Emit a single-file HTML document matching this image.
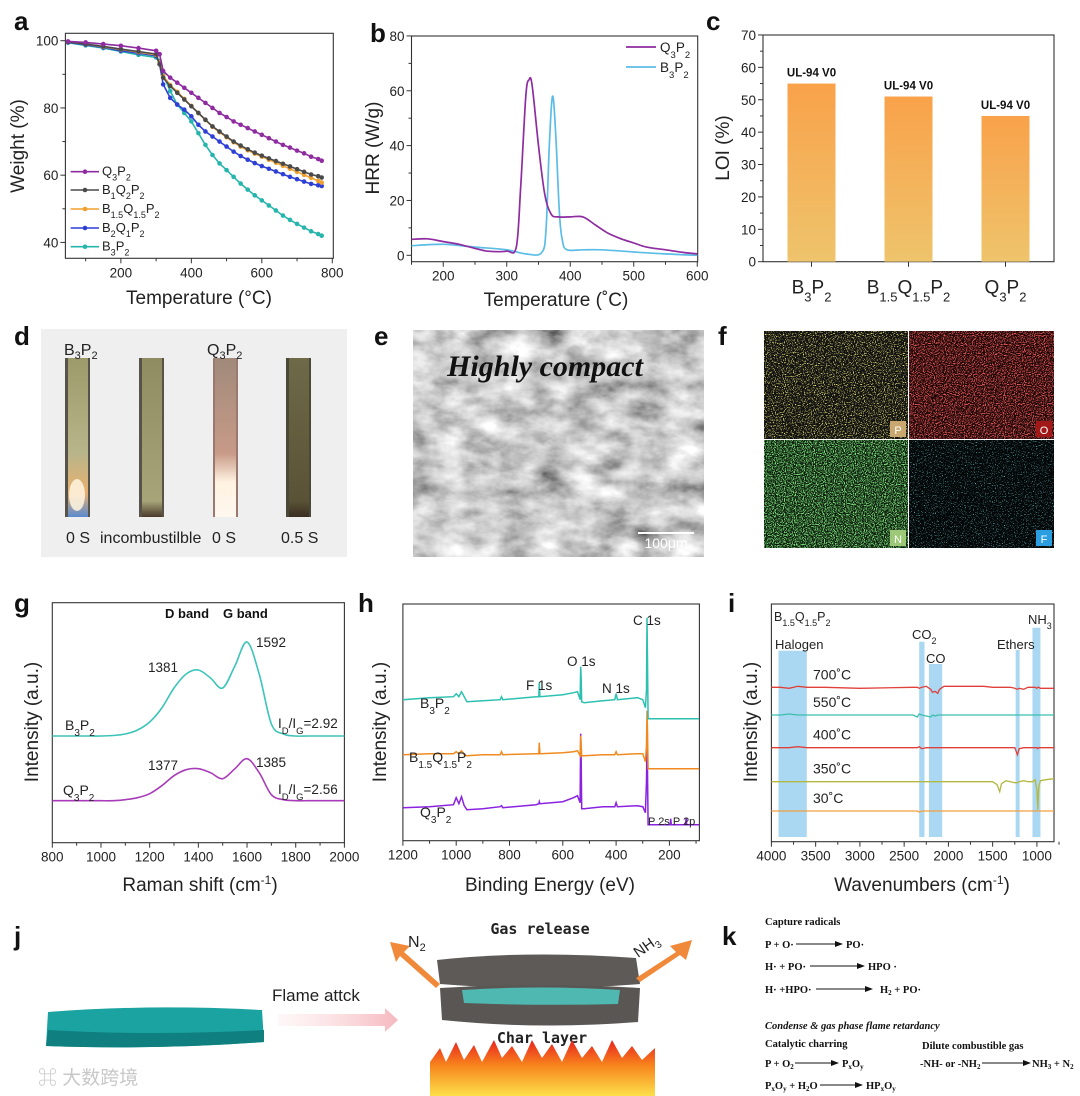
<!DOCTYPE html>
<html><head><meta charset="utf-8"><title>Flame retardant figure</title>
<style>
html,body{margin:0;padding:0;background:#fff;}
svg{display:block;font-family:"Liberation Sans","Noto Sans CJK SC",sans-serif;}
.pl{font-weight:bold;font-size:26px;fill:#111;}
.tk{font-size:13.5px;fill:#222;}
.at{font-size:19px;fill:#222;}
.kt{font-family:"Liberation Serif",serif;font-weight:bold;font-size:10.5px;fill:#111;}
</style></head>
<body>
<svg id="fig" width="1080" height="1096" viewBox="0 0 1080 1096" xmlns="http://www.w3.org/2000/svg">
<defs>
 <linearGradient id="barGrad" x1="0" y1="0" x2="0" y2="1"><stop offset="0" stop-color="#f9a24a"/><stop offset="1" stop-color="#eec46c"/></linearGradient>
 <linearGradient id="stripA" x1="0" y1="0" x2="0" y2="1"><stop offset="0" stop-color="#9c9a6a"/><stop offset="0.6" stop-color="#b8b58a"/><stop offset="0.85" stop-color="#e8b070"/><stop offset="1" stop-color="#5a8ad0"/></linearGradient>
 <linearGradient id="stripB" x1="0" y1="0" x2="0" y2="1"><stop offset="0" stop-color="#8e8c60"/><stop offset="0.9" stop-color="#a8a47a"/><stop offset="1" stop-color="#4a3a2a"/></linearGradient>
 <linearGradient id="stripC" x1="0" y1="0" x2="0" y2="1"><stop offset="0" stop-color="#a08a7a"/><stop offset="0.6" stop-color="#c89a88"/><stop offset="0.78" stop-color="#fff2e0"/><stop offset="1" stop-color="#fff8f0"/></linearGradient>
 <linearGradient id="stripD" x1="0" y1="0" x2="0" y2="1"><stop offset="0" stop-color="#6e6a48"/><stop offset="0.9" stop-color="#5a5236"/><stop offset="1" stop-color="#3a2e22"/></linearGradient>
 <linearGradient id="pinkArrow" x1="0" y1="0" x2="1" y2="0"><stop offset="0" stop-color="#fde4e6" stop-opacity="0.3"/><stop offset="1" stop-color="#f5b8bf"/></linearGradient>
 <linearGradient id="fireGrad" x1="0" y1="0" x2="0" y2="1"><stop offset="0" stop-color="#e8231f"/><stop offset="0.45" stop-color="#f7841c"/><stop offset="1" stop-color="#fde04a"/></linearGradient>
 <filter id="semNoise" x="0" y="0" width="1" height="1"><feTurbulence type="fractalNoise" baseFrequency="0.03 0.05" numOctaves="4" seed="3"/><feColorMatrix type="matrix" values="1.1 0.4 0.2 0 -0.25  1.1 0.4 0.2 0 -0.25  1.1 0.4 0.2 0 -0.25  0 0 0 0 1"/></filter>
 <filter id="dotsY" x="0" y="0" width="1" height="1"><feTurbulence type="fractalNoise" baseFrequency="0.9" numOctaves="1" seed="1"/><feColorMatrix type="matrix" values="0 0 0 0 0.85 0 0 0 0 0.8 0 0 0 0 0.2 6 0 0 0 -3.2"/></filter>
 <filter id="dotsR" x="0" y="0" width="1" height="1"><feTurbulence type="fractalNoise" baseFrequency="0.9" numOctaves="1" seed="2"/><feColorMatrix type="matrix" values="0 0 0 0 0.85 0 0 0 0 0.1 0 0 0 0 0.1 6 0 0 0 -2.9"/></filter>
 <filter id="dotsG" x="0" y="0" width="1" height="1"><feTurbulence type="fractalNoise" baseFrequency="0.9" numOctaves="1" seed="4"/><feColorMatrix type="matrix" values="0 0 0 0 0.2 0 0 0 0 0.75 0 0 0 0 0.2 6 0 0 0 -2.8"/></filter>
 <filter id="dotsC" x="0" y="0" width="1" height="1"><feTurbulence type="fractalNoise" baseFrequency="0.9" numOctaves="1" seed="5"/><feColorMatrix type="matrix" values="0 0 0 0 0.2 0 0 0 0 0.7 0 0 0 0 0.8 6 0 0 0 -3.6"/></filter>
</defs>

<text class="pl" x="14" y="30">a</text>
<text class="pl" x="370" y="42">b</text>
<text class="pl" x="706" y="30">c</text>
<text class="pl" x="14" y="345">d</text>
<text class="pl" x="374" y="345">e</text>
<text class="pl" x="718" y="345">f</text>
<text class="pl" x="14" y="612">g</text>
<text class="pl" x="358" y="612">h</text>
<text class="pl" x="728" y="612">i</text>
<text class="pl" x="14" y="945">j</text>
<text class="pl" x="722" y="945">k</text>

<g>
 <rect x="41" y="329" width="306" height="228" fill="#efefef"/>
 <rect x="65" y="358" width="25" height="159" fill="#55534a"/>
 <rect x="68" y="358" width="20" height="159" fill="url(#stripA)"/>
 <ellipse cx="77" cy="495" rx="8" ry="16" fill="#fff6e0" opacity="0.85"/>
 <rect x="139" y="358" width="25" height="159" fill="#55534a"/>
 <rect x="142" y="358" width="20" height="159" fill="url(#stripB)"/>
 <rect x="213" y="358" width="25" height="159" fill="#9a7a70"/>
 <rect x="215" y="358" width="21" height="159" fill="url(#stripC)"/>
 <rect x="286" y="358" width="25" height="159" fill="#4a4838"/>
 <rect x="289" y="358" width="20" height="159" fill="url(#stripD)"/>
 <text x="64" y="355" font-size="16" fill="#222">B<tspan font-size="11" dy="4">3</tspan><tspan dy="-4">P</tspan><tspan font-size="11" dy="4">2</tspan></text>
 <text x="207" y="355" font-size="16" fill="#222">Q<tspan font-size="11" dy="4">3</tspan><tspan dy="-4">P</tspan><tspan font-size="11" dy="4">2</tspan></text>
 <text x="66" y="543" font-size="16" fill="#222">0 S</text>
 <text x="100" y="543" font-size="16" fill="#222">incombustilble</text>
 <text x="212" y="543" font-size="16" fill="#222">0 S</text>
 <text x="281" y="543" font-size="16" fill="#222">0.5 S</text>
</g>

<g>
 <rect x="413" y="330" width="291" height="227" fill="#999" filter="url(#semNoise)"/>
 <text x="545" y="376" text-anchor="middle" font-family="Liberation Serif,serif" font-style="italic" font-weight="bold" font-size="30" fill="#111">Highly compact</text>
 <line x1="638" y1="533" x2="694" y2="533" stroke="#fff" stroke-width="2"/>
 <text x="666" y="548" text-anchor="middle" font-size="14" fill="#fff">100μm</text>
</g>

<g>
 <rect x="764" y="331" width="144" height="108" fill="#111"/>
 <rect x="764" y="331" width="144" height="108" filter="url(#dotsY)"/>
 <rect x="909" y="331" width="145" height="108" fill="#1a0606"/>
 <rect x="909" y="331" width="145" height="108" filter="url(#dotsR)"/>
 <rect x="764" y="440" width="144" height="108" fill="#0b1a0b"/>
 <rect x="764" y="440" width="144" height="108" filter="url(#dotsG)"/>
 <rect x="909" y="440" width="145" height="108" fill="#050808"/>
 <rect x="909" y="440" width="145" height="108" filter="url(#dotsC)"/>
 <rect x="890" y="421" width="16" height="16" fill="#c8a870"/><text x="898" y="434" text-anchor="middle" font-size="11" fill="#fff">P</text>
 <rect x="1036" y="421" width="16" height="16" fill="#a01818"/><text x="1044" y="434" text-anchor="middle" font-size="11" fill="#fff">O</text>
 <rect x="890" y="530" width="16" height="16" fill="#9cc878"/><text x="898" y="543" text-anchor="middle" font-size="11" fill="#fff">N</text>
 <rect x="1036" y="530" width="16" height="16" fill="#2a9ee0"/><text x="1044" y="543" text-anchor="middle" font-size="11" fill="#fff">F</text>
</g>

<g>
 <path d="M48,1012 Q150,1004 262,1010 L264,1042 Q160,1050 46,1046 Z" fill="#1aa3a0"/>
 <path d="M48,1030 Q150,1036 264,1030 L264,1042 Q160,1050 46,1046 Z" fill="#0f7f80"/>
 <path d="M278,1014 L385,1014 L385,1008 L398,1020 L385,1032 L385,1026 L278,1026 Z" fill="url(#pinkArrow)"/>
 <text x="272" y="1001" font-size="17" fill="#222">Flame attck</text>
 <text x="540" y="934" text-anchor="middle" font-size="15" font-weight="bold" font-family="DejaVu Sans Mono,monospace" fill="#222">Gas release</text>
 <path d="M437,960 Q530,950 636,958 L640,984 Q540,992 440,984 Z" fill="#5e5a58"/>
 <path d="M440,988 Q540,982 640,988 L638,1022 Q540,1030 442,1020 Z" fill="#5a5654"/>
 <path d="M462,990 Q540,985 620,990 L618,1004 Q540,1006 464,1003 Z" fill="#4fb8b0"/>
 <text x="542" y="1043" text-anchor="middle" font-size="15" font-weight="bold" font-family="DejaVu Sans Mono,monospace" fill="#222">Char layer</text>
 <path d="M430,1096 L430,1062 L440,1048 L446,1062 L456,1042 L464,1060 L474,1045 L482,1062 L494,1040 L502,1058 L512,1046 L522,1062 L532,1040 L542,1058 L552,1044 L562,1062 L572,1040 L582,1058 L592,1046 L602,1062 L612,1040 L622,1058 L632,1046 L642,1060 L655,1048 L655,1096 Z" fill="url(#fireGrad)"/>
 <path d="M440,984 L404,952 L410,946 L390,942 L396,962 L400,956 L436,988 Z" fill="#f08a3a"/>
 <text x="408" y="947" font-size="16" fill="#222">N<tspan font-size="11" dy="4">2</tspan></text>
 <path d="M636,978 L676,952 L670,946 L692,940 L686,960 L680,955 L640,982 Z" fill="#f08a3a"/>
 <text x="638" y="958" font-size="15" fill="#222" transform="rotate(-35 638 958)">NH<tspan font-size="10" dy="4">3</tspan></text>
 <text x="38" y="1084" font-size="19" fill="#c8c8c8">⌘ 大数跨境</text>
</g>

<g>
 <text class="kt" x="765" y="925">Capture radicals</text>
 <text class="kt" x="765" y="948">P + O·</text>
 <text class="kt" x="846" y="948">PO·</text>
 <text class="kt" x="765" y="970">H· + PO·</text>
 <text class="kt" x="868" y="970">HPO ·</text>
 <text class="kt" x="765" y="993">H· +HPO·</text>
 <text class="kt" x="880" y="993">H<tspan font-size="7" dy="2">2</tspan><tspan dy="-2"> + PO·</tspan></text>
 <text class="kt" x="765" y="1029" font-style="italic">Condense &amp; gas phase flame retardancy</text>
 <text class="kt" x="765" y="1047">Catalytic charring</text>
 <text class="kt" x="922" y="1049">Dilute combustible gas</text>
 <text class="kt" x="765" y="1067">P + O<tspan font-size="7" dy="2">2</tspan></text>
 <text class="kt" x="842" y="1067">P<tspan font-size="7" dy="2">x</tspan><tspan dy="-2">O</tspan><tspan font-size="7" dy="2">y</tspan></text>
 <text class="kt" x="920" y="1067">-NH- or -NH<tspan font-size="7" dy="2">2</tspan></text>
 <text class="kt" x="1032" y="1067">NH<tspan font-size="7" dy="2">3</tspan><tspan dy="-2"> + N</tspan><tspan font-size="7" dy="2">2</tspan></text>
 <text class="kt" x="765" y="1089">P<tspan font-size="7" dy="2">x</tspan><tspan dy="-2">O</tspan><tspan font-size="7" dy="2">y</tspan><tspan dy="-2"> + H</tspan><tspan font-size="7" dy="2">2</tspan><tspan dy="-2">O</tspan></text>
 <text class="kt" x="866" y="1089">HP<tspan font-size="7" dy="2">x</tspan><tspan dy="-2">O</tspan><tspan font-size="7" dy="2">y</tspan></text>
 <g stroke="#111" stroke-width="1">
  <line x1="796" y1="944" x2="836" y2="944"/><line x1="810" y1="966" x2="858" y2="966"/><line x1="816" y1="989" x2="866" y2="989"/>
  <line x1="795" y1="1063" x2="832" y2="1063"/><line x1="982" y1="1063" x2="1024" y2="1063"/><line x1="820" y1="1085" x2="856" y2="1085"/>
 </g>
 <g fill="#111">
  <path d="M843,944 l-8,-3 v6z"/><path d="M865,966 l-8,-3 v6z"/><path d="M873,989 l-8,-3 v6z"/>
  <path d="M839,1063 l-8,-3 v6z"/><path d="M1031,1063 l-8,-3 v6z"/><path d="M863,1085 l-8,-3 v6z"/>
 </g>
</g>

<g id="charts"></g>

<script>
// ---------- panel a: TGA ----------
const tgaTemps = [50,100,150,200,250,300,310,320,340,360,380,400,420,440,460,480,500,520,540,560,580,600,620,640,660,680,700,720,740,760,770];
const tgaQ3P2 = [99.8,99.5,99,98.5,97.8,97,96,91,89,87.5,86,84.5,83,81.5,80,78.5,77.3,76,75,74,73,72,71,70,69,68.2,67.3,66.5,65.5,64.8,64.3];
const tgaB1Q2P2 = [99.6,99,98.3,97.5,96.8,96,93,89,86.5,84.5,82.5,80.5,78.5,76.5,74.5,73,71.5,70,68.8,67.7,66.7,65.8,65,64.2,63.4,62.6,61.8,61,60.2,59.7,59.3];
const tgaB15Q15P2 = [99.6,99,98.2,97.4,96.6,95.8,93.5,89.5,86.8,84.8,82.7,80.6,78.5,76.4,74.4,72.8,71.3,69.8,68.5,67.4,66.4,65.5,64.6,63.7,62.8,61.9,61,60.1,59.2,58.3,57.8];
const tgaB2Q1P2 = [99.5,98.8,98,97,96.3,95.5,93,87,83,81,79.5,77.5,75,73,71.5,70,68.5,67,65.7,64.6,63.6,62.7,61.9,61.1,60.3,59.5,58.8,58.1,57.4,57,56.8];
const tgaB3P2 = [99.4,98.6,97.8,96.8,95.8,95,94,90,85,81,78.5,76,72.5,69,66,63.5,61.5,59.5,57.5,55.7,54,52.5,51,49.5,48,46.7,45.5,44.4,43.3,42.5,42];
const tgaNames = ["Q_3P_2","B_1Q_2P_2","B_1_._5Q_1_._5P_2","B_2Q_1P_2","B_3P_2"];
const tgaXTicks = [200,400,600,800];
const tgaYTicks = [40,60,80,100];

// ---------- panel b: HRR ----------
const hrrTempQ = [150,175,200,225,250,270,300,315,322,330,335,340,350,360,370,380,400,420,440,460,480,500,520,550,580,600];
const hrrQ3P2 = [5.8,6,5,4,2.5,1.5,1.5,3,25,58,64,62,40,22,15,14,14,14,11,8,6,4.5,3,2,1,0.5];
const hrrTempB = [150,200,250,300,330,355,362,367,372,377,383,388,395,420,450,500,550,600];
const hrrB3P2 = [3.5,4,3,2,0.5,1,10,40,58,45,15,5,2,2,2,1.2,0.5,0];
const hrrXTicks = [200,300,400,500,600];
const hrrYTicks = [0,20,40,60,80];

// ---------- panel c: LOI ----------
const loiCats = ["B_3P_2","B_1_._5Q_1_._5P_2","Q_3P_2"];
const loiValues = [55,51,45];
const loiLabels = ["UL-94 V0","UL-94 V0","UL-94 V0"];
const loiYTicks = [0,10,20,30,40,50,60,70];

// ---------- panel g: Raman ----------
const ramanShift = [800,850,900,950,1000,1050,1100,1150,1200,1250,1300,1350,1400,1450,1500,1550,1600,1650,1700,1750,1800,1850,1900,1950,2000];
const ramanB3P2 = [0,0,0,0,0,0.5,2,6,14,28,48,62,66,58,48,70,94,62,12,2,0,0,0,0,0];
const ramanQ3P2 = [0,0,0,0,0,0,1,3,7,15,25,31,32,28,22,32,42,28,6,1,0,0,0,0,0];
const ramanXTicks = [800,1000,1200,1400,1600,1800,2000];

// ---------- panel h: XPS ----------
const xpsEnergy = [1200,1100,1010,1000,990,980,970,960,900,835,830,825,700,690,688,686,600,560,545,535,533,531,529,520,450,405,400,395,320,300,290,286,284,282,280,250,197,195,193,140,137,135,88];
const xpsB3P2 = [141,143,144,147,144,149,144,139,140,141,144,141,144,144,158,144,146,148,149,141,174,161,139,138,140,141,147,141,143,141,133,151,223,181,122,122,122,122,122,122,122,122,122];
const xpsB15Q15P2 = [86,87,87,89,87,90,86,85,86,86,89,86,87,87,98,87,88,89,90,85,105,95,85,85,86,86,89,86,87,87,79,95,130,110,72,72,72,72,72,72,72,72,72];
const xpsQ3P2 = [33,34,36,43,37,44,35,31,32,34,35,33,36,37,39,37,39,43,45,38,107,80,32,32,34,34,38,34,35,34,28,60,102,70,16,16,16,22,16,16,23,16,16];
const xpsXTicks = [1200,1000,800,600,400,200];

// ---------- panel i: FTIR ----------
const ftirWave = [4000,3900,3800,3700,3600,3500,3400,3000,2400,2350,2330,2300,2250,2200,2180,2150,2120,2100,2050,1600,1500,1450,1420,1400,1350,1300,1250,1220,1200,1150,1100,1050,1020,1000,990,980,960,900,800];
const ftir700 = [0,0,-1,1,0,0,0,-1,0,0,-1,0,1,-2,-5,-4,-6,-2,1,1,0,0,0,0,0,0,-1,-2,-1,-2,0,0,0,-1,0,0,-1,-1,-1];
const ftir550 = [0,0,1,0,0,0,0,0,0,-2,1,0,-1,-2,0,-1,0,0,0,0,0,0,0,0,0,0,0,0,0,0,0,0,0,0,0,0,0,0,0];
const ftir400 = [0,0,0,1,0,0,0,0,0,0,1,-1,0,0,0,0,0,0,0,0,0,0,0,0,0,0,0,-7,-1,0,0,0,0,0,-1,0,0,0,0];
const ftir350 = [0,0,0,0,0,0,0,0,0,0,0,0,0,0,0,0,0,0,0,0,0,-3,-10,-2,1,0,-1,-1,0,1,0,0,2,-8,-28,-6,1,2,3];
const ftir30 = [0,0,0,0,0,0,0,0,0,0,-1,0,0,0,0,0,0,0,0,0,0,0,0,0,0,0,0,0,0,0,0,0,0,0,0,0,0,0,0];
const ftirTemps = ["700˚C","550˚C","400˚C","350˚C","30˚C"];
const ftirXTicks = [4000,3500,3000,2500,2000,1500,1000];
const ftirBandStart = [3920,2330,2220,1240,1050];
const ftirBandEnd = [3600,2270,2070,1195,960];

const NS = "http://www.w3.org/2000/svg";
const root = document.getElementById("charts");
function mk(parent, tag, attrs, name, text) {
  const el = document.createElementNS(NS, tag);
  for (const k in attrs) el.setAttribute(k, attrs[k]);
  
  
  if (text !== undefined) el.textContent = text;
  parent.appendChild(el);
  return el;
}
function formula(parent, attrs, name, s, subSize) {
  const t = mk(parent, "text", attrs, name);
  let i = 0, buf = "";
  const fs = parseFloat(attrs["font-size"] || 14);
  const ss = subSize || fs * 0.7;
  function flush() { if (buf) { const ts = document.createElementNS(NS, "tspan"); ts.textContent = buf; t.appendChild(ts); buf = ""; } }
  while (i < s.length) {
    const c = s[i];
    if (c === "_" || c === "^") {
      flush();
      let sub = "";
      i++;
      while (i < s.length && /[0-9.\-xyA-Z]/.test(s[i]) && sub.length < 1) { sub += s[i]; i++; }
      while ((s[i] === "_" || s[i] === "^") && i + 1 < s.length) { sub += s[i + 1]; i += 2; }
      const ts = document.createElementNS(NS, "tspan");
      ts.setAttribute("font-size", ss);
      ts.setAttribute("baseline-shift", c === "_" ? "sub" : "super");
      ts.textContent = sub;
      t.appendChild(ts);
    } else { buf += c; i++; }
  }
  flush();
  return t;
}
function linePath(pts) { return pts.map((p, i) => (i ? "L" : "M") + p[0].toFixed(1) + "," + p[1].toFixed(1)).join(""); }
function smoothPath(pts) {
  let d = "M" + pts[0][0].toFixed(1) + "," + pts[0][1].toFixed(1);
  for (let i = 0; i < pts.length - 1; i++) {
    const p0 = pts[i - 1] || pts[i], p1 = pts[i], p2 = pts[i + 1], p3 = pts[i + 2] || p2;
    const c1 = [p1[0] + (p2[0] - p0[0]) / 6, p1[1] + (p2[1] - p0[1]) / 6];
    const c2 = [p2[0] - (p3[0] - p1[0]) / 6, p2[1] - (p3[1] - p1[1]) / 6];
    d += "C" + c1[0].toFixed(1) + "," + c1[1].toFixed(1) + " " + c2[0].toFixed(1) + "," + c2[1].toFixed(1) + " " + p2[0].toFixed(1) + "," + p2[1].toFixed(1);
  }
  return d;
}
function frame(g, x0, y0, x1, y1, name) {
  mk(g, "rect", {x: x0, y: y0, width: x1 - x0, height: y1 - y0, fill: "none", stroke: "#333", "stroke-width": 1.1}, name);
}
function xAxis(g, sx, ticks, minorStep, y, lo, hi, prefix) {
  ticks.forEach(v => {
    mk(g, "line", {x1: sx(v), x2: sx(v), y1: y, y2: y + 5, stroke: "#333"}, prefix + "-x-tick");
    mk(g, "text", {x: sx(v), y: y + 19, "text-anchor": "middle", class: "tk"}, prefix + "-x-tick-label", String(v));
  });
  for (let v = Math.ceil(lo / minorStep) * minorStep; v <= hi; v += minorStep) {
    if (ticks.indexOf(v) < 0) mk(g, "line", {x1: sx(v), x2: sx(v), y1: y, y2: y + 3, stroke: "#333"}, prefix + "-x-minor-tick");
  }
}
function yAxis(g, sy, ticks, minorStep, x, lo, hi, prefix) {
  ticks.forEach(v => {
    mk(g, "line", {x1: x - 5, x2: x, y1: sy(v), y2: sy(v), stroke: "#333"}, prefix + "-y-tick");
    mk(g, "text", {x: x - 7, y: sy(v) + 5, "text-anchor": "end", class: "tk"}, prefix + "-y-tick-label", String(v));
  });
  for (let v = lo; v <= hi; v += minorStep) {
    if (ticks.indexOf(v) < 0) mk(g, "line", {x1: x - 3, x2: x, y1: sy(v), y2: sy(v), stroke: "#333"}, prefix + "-y-minor-tick");
  }
}
function yTitle(g, x, y, s, name) {
  return formula(g, {x: x, y: y, "text-anchor": "middle", class: "at", "font-size": 19, transform: "rotate(-90 " + x + " " + y + ")"}, name, s);
}

// ===== Panel a =====
(function () {
  const g = mk(root, "g", {}, "tga-chart");
  const x0 = 65.4, x1 = 333.3, y0 = 33.3, y1 = 258.3;
  const sx = t => x0 + (t - 42.5) * 0.3523;
  const sy = v => 40.7 + (100 - v) * 3.362;
  frame(g, x0, y0, x1, y1, "tga-plot-frame");
  xAxis(g, sx, tgaXTicks, 100, y1, 100, 800, "tga");
  yAxis(g, sy, tgaYTicks, 10, x0, 40, 100, "tga");
  mk(g, "text", {x: 199, y: 304, "text-anchor": "middle", class: "at"}, "tga-x-axis-title", "Temperature (°C)");
  yTitle(g, 24, 146, "Weight (%)", "tga-y-axis-title");
  const series = [tgaQ3P2, tgaB1Q2P2, tgaB15Q15P2, tgaB2Q1P2, tgaB3P2];
  const colors = ["#8e2ca0", "#4a4a4a", "#f0a030", "#2e3fd6", "#26b5ac"];
  [4, 3, 2, 1, 0].forEach(k => {
    const pts = tgaTemps.map((t, i) => [sx(t), sy(series[k][i])]);
    mk(g, "path", {d: linePath(pts), fill: "none", stroke: colors[k], "stroke-width": 1.6}, "tga-line-" + k);
    pts.forEach(p => mk(g, "circle", {cx: p[0], cy: p[1], r: 2.3, fill: colors[k]}, "tga-marker-" + k));
  });
  const legY = [171.7, 190, 209, 228, 246.7];
  tgaNames.forEach((n, k) => {
    mk(g, "line", {x1: 70.6, x2: 99, y1: legY[k], y2: legY[k], stroke: colors[k], "stroke-width": 1.6}, "tga-legend-line");
    mk(g, "circle", {cx: 85, cy: legY[k], r: 2.3, fill: colors[k]}, "tga-legend-marker");
    formula(g, {x: 102, y: legY[k] + 4, "font-size": 13, fill: "#222"}, "tga-legend-entry", n, 9);
  });
})();

// ===== Panel b =====
(function () {
  const g = mk(root, "g", {}, "hrr-chart");
  const x0 = 411.5, x1 = 697.7, y0 = 36, y1 = 261.7;
  const sx = t => 411.5 + (t - 150) * 0.635;
  const sy = v => 255.3 - v * 2.742;
  frame(g, x0, y0, x1, y1, "hrr-plot-frame");
  xAxis(g, sx, hrrXTicks, 50, y1, 150, 600, "hrr");
  yAxis(g, sy, hrrYTicks, 10, x0, 0, 80, "hrr");
  mk(g, "text", {x: 556, y: 306, "text-anchor": "middle", class: "at"}, "hrr-x-axis-title", "Temperature (˚C)");
  yTitle(g, 379, 148, "HRR (W/g)", "hrr-y-axis-title");
  mk(g, "path", {d: smoothPath(hrrTempB.map((t, i) => [sx(t), sy(hrrB3P2[i])])), fill: "none", stroke: "#5bbde6", "stroke-width": 1.7}, "hrr-line-b3p2");
  mk(g, "path", {d: smoothPath(hrrTempQ.map((t, i) => [sx(t), sy(hrrQ3P2[i])])), fill: "none", stroke: "#8e2ca0", "stroke-width": 1.7}, "hrr-line-q3p2");
  mk(g, "line", {x1: 626, x2: 656, y1: 47, y2: 47, stroke: "#8e2ca0", "stroke-width": 1.7}, "hrr-legend-line-q3p2");
  formula(g, {x: 660, y: 52, "font-size": 13.5, fill: "#222"}, "hrr-legend-q3p2", "Q_3P_2", 9.5);
  mk(g, "line", {x1: 626, x2: 656, y1: 67, y2: 67, stroke: "#5bbde6", "stroke-width": 1.7}, "hrr-legend-line-b3p2");
  formula(g, {x: 660, y: 72, "font-size": 13.5, fill: "#222"}, "hrr-legend-b3p2", "B_3P_2", 9.5);
})();

// ===== Panel c =====
(function () {
  const g = mk(root, "g", {}, "loi-chart");
  const x0 = 763, x1 = 1054, y0 = 35, y1 = 261.7;
  const sy = v => y1 - v * 3.239;
  const band = (x1 - x0) / loiCats.length;
  const sx = i => x0 + band * (i + 0.5);
  frame(g, x0, y0, x1, y1, "loi-plot-frame");
  yAxis(g, sy, loiYTicks, 5, x0, 0, 70, "loi");
  yTitle(g, 729, 148, "LOI (%)", "loi-y-axis-title");
  loiCats.forEach((c, i) => {
    const bw = 48;
    mk(g, "rect", {x: sx(i) - bw / 2, y: sy(loiValues[i]), width: bw, height: y1 - sy(loiValues[i]), fill: "url(#barGrad)"}, "loi-bar-" + i);
    mk(g, "text", {x: sx(i), y: sy(loiValues[i]) - 7, "text-anchor": "middle", "font-size": 11.5, "font-weight": "bold", fill: "#111"}, "loi-bar-label", loiLabels[i]);
    mk(g, "line", {x1: sx(i), x2: sx(i), y1: y1, y2: y1 + 5, stroke: "#333"}, "loi-x-tick");
    formula(g, {x: sx(i), y: y1 + 32, "text-anchor": "middle", "font-size": 19, fill: "#222"}, "loi-category-label", c, 13);
  });
})();

// ===== Panel g =====
(function () {
  const g = mk(root, "g", {}, "raman-chart");
  const x0 = 52.3, x1 = 344.4, y0 = 602.7, y1 = 842.7;
  const sx = v => x0 + (v - 800) * (x1 - x0) / 1200;
  const baseB = 736, baseQ = 800.7;
  frame(g, x0, y0, x1, y1, "raman-plot-frame");
  xAxis(g, sx, ramanXTicks, 100, y1, 800, 2000, "raman");
  formula(g, {x: 200, y: 891, "text-anchor": "middle", class: "at", "font-size": 19}, "raman-x-axis-title", "Raman shift (cm^-^1)", 12);
  yTitle(g, 38, 722, "Intensity (a.u.)", "raman-y-axis-title");
  mk(g, "path", {d: smoothPath(ramanShift.map((v, i) => [sx(v), baseB - ramanB3P2[i]])), fill: "none", stroke: "#3cc4b8", "stroke-width": 1.6}, "raman-line-b3p2");
  mk(g, "path", {d: smoothPath(ramanShift.map((v, i) => [sx(v), baseQ - ramanQ3P2[i]])), fill: "none", stroke: "#a83cb8", "stroke-width": 1.6}, "raman-line-q3p2");
  mk(g, "text", {x: 165, y: 618, "text-anchor": "start", "font-size": 13, "font-weight": "bold", fill: "#111"}, "d-band-label", "D band");
  mk(g, "text", {x: 223, y: 618, "text-anchor": "start", "font-size": 13, "font-weight": "bold", fill: "#111"}, "g-band-label", "G band");
  mk(g, "text", {x: 148, y: 672, "font-size": 13.5, fill: "#222"}, "peak-1381", "1381");
  mk(g, "text", {x: 256, y: 647, "font-size": 13.5, fill: "#222"}, "peak-1592", "1592");
  mk(g, "text", {x: 148, y: 770, "font-size": 13.5, fill: "#222"}, "peak-1377", "1377");
  mk(g, "text", {x: 256, y: 767, "font-size": 13.5, fill: "#222"}, "peak-1385", "1385");
  formula(g, {x: 65, y: 730, "font-size": 14, fill: "#222"}, "raman-label-b3p2", "B_3P_2", 10);
  formula(g, {x: 63, y: 795, "font-size": 14, fill: "#222"}, "raman-label-q3p2", "Q_3P_2", 10);
  formula(g, {x: 278, y: 728, "font-size": 13.5, fill: "#222"}, "ratio-b3p2", "I_D/I_G=2.92", 9.5);
  formula(g, {x: 278, y: 794, "font-size": 13.5, fill: "#222"}, "ratio-q3p2", "I_D/I_G=2.56", 9.5);
})();

// ===== Panel h =====
(function () {
  const g = mk(root, "g", {}, "xps-chart");
  const x0 = 402.9, x1 = 699.4, y0 = 604, y1 = 840.7;
  const sx = v => x0 + (1200 - v) * 0.2665;
  frame(g, x0, y0, x1, y1, "xps-plot-frame");
  xAxis(g, sx, xpsXTicks, 100, y1, 100, 1200, "xps");
  mk(g, "text", {x: 550, y: 891, "text-anchor": "middle", class: "at"}, "xps-x-axis-title", "Binding Energy (eV)");
  yTitle(g, 386, 722, "Intensity (a.u.)", "xps-y-axis-title");
  const sers = [xpsQ3P2, xpsB15Q15P2, xpsB3P2], cols = ["#8a22e0", "#f08a20", "#2cc0b0"];
  sers.forEach((s, k) => mk(g, "path", {d: linePath(xpsEnergy.map((e, i) => [sx(e), y1 - s[i]])), fill: "none", stroke: cols[k], "stroke-width": 1.5}, "xps-line-" + k));
  formula(g, {x: 420, y: 708, "font-size": 14, fill: "#222"}, "xps-label-b3p2", "B_3P_2", 10);
  formula(g, {x: 409, y: 762, "font-size": 14, fill: "#222"}, "xps-label-b15q15p2", "B_1_._5Q_1_._5P_2", 10);
  formula(g, {x: 420, y: 817, "font-size": 14, fill: "#222"}, "xps-label-q3p2", "Q_3P_2", 10);
  mk(g, "text", {x: 526, y: 690, "font-size": 13.5, fill: "#222"}, "peak-f1s", "F 1s");
  mk(g, "text", {x: 567, y: 666, "font-size": 13.5, fill: "#222"}, "peak-o1s", "O 1s");
  mk(g, "text", {x: 602, y: 693, "font-size": 13.5, fill: "#222"}, "peak-n1s", "N 1s");
  mk(g, "text", {x: 633, y: 625, "font-size": 13.5, fill: "#222"}, "peak-c1s", "C 1s");
  mk(g, "text", {x: 648, y: 825, "font-size": 11, fill: "#222"}, "peak-p2s-p2p", "P 2s P 2p");
})();

// ===== Panel i =====
(function () {
  const g = mk(root, "g", {}, "ftir-chart");
  const x0 = 771.4, x1 = 1054, y0 = 604, y1 = 841.7;
  const sx = v => x0 + (4000 - v) * 0.0885;
  const bandTop = [650.7, 641.7, 664, 650, 627.7];
  ftirBandStart.forEach((s, i) => mk(g, "rect", {x: sx(s), y: bandTop[i], width: sx(ftirBandEnd[i]) - sx(s), height: 837 - bandTop[i], fill: "#aad8f2"}, "ftir-band-" + i));
  frame(g, x0, y0, x1, y1, "ftir-plot-frame");
  xAxis(g, sx, ftirXTicks, 250, y1, 750, 4000, "ftir");
  formula(g, {x: 922, y: 891, "text-anchor": "middle", class: "at", "font-size": 19}, "ftir-x-axis-title", "Wavenumbers (cm^-^1)", 12);
  yTitle(g, 757, 722, "Intensity (a.u.)", "ftir-y-axis-title");
  const sers = [ftir700, ftir550, ftir400, ftir350, ftir30];
  const base = [687.3, 715, 747.7, 781.7, 811];
  const cols = ["#e0403a", "#3bbfad", "#e0403a", "#b5b840", "#f0a040"];
  sers.forEach((s, k) => {
    mk(g, "path", {d: linePath(ftirWave.map((w, i) => [Math.min(sx(w), x1), base[k] - s[i]])), fill: "none", stroke: cols[k], "stroke-width": 1.3}, "ftir-line-" + k);
    mk(g, "text", {x: 813, y: base[k] - 8, "font-size": 14, fill: "#222"}, "ftir-temp-label", ftirTemps[k]);
  });
  formula(g, {x: 774, y: 621, "font-size": 12.5, fill: "#222"}, "ftir-sample-label", "B_1_._5Q_1_._5P_2", 9);
  mk(g, "text", {x: 775, y: 649, "font-size": 13, fill: "#222"}, "band-halogen", "Halogen");
  formula(g, {x: 912, y: 639, "font-size": 13, fill: "#222"}, "band-co2", "CO_2", 9);
  mk(g, "text", {x: 926, y: 663, "font-size": 13, fill: "#222"}, "band-co", "CO");
  mk(g, "text", {x: 997, y: 649, "font-size": 13, fill: "#222"}, "band-ethers", "Ethers");
  formula(g, {x: 1028, y: 624, "font-size": 13, fill: "#222"}, "band-nh3", "NH_3", 9);
})();
</script>
</svg>
</body></html>
